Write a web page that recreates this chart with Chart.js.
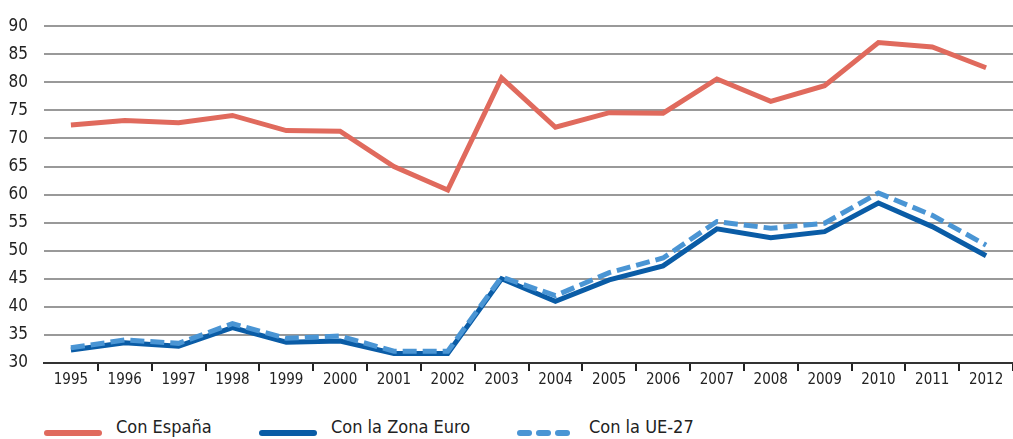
<!DOCTYPE html>
<html lang="es">
<head>
<meta charset="utf-8">
<title>Comercio</title>
<script src="https://cdn.jsdelivr.net/npm/chart.js@4/dist/chart.umd.min.js"></script>
<style>
  html, body { margin: 0; padding: 0; background: #fff; }
  body { width: 1013px; height: 439px; position: relative; overflow: hidden;
         font-family: "Liberation Sans Narrow", "DejaVu Sans Condensed", "Roboto", sans-serif; }
  #wrap { position: absolute; left: 0; top: 0; width: 1013px; height: 400px; }
  #legend { position: absolute; left: 0; top: 414px; height: 26px; width: 1013px; }
  .item { position: absolute; top: 0; height: 26px; color: #222; font-size: 18px; line-height: 26px; }
  .item .sw { position: absolute; top: 16px; height: 6px; border-radius: 3px; }
  .item span.lbl { position: absolute; top: 0; white-space: nowrap; }
  .dash { position: absolute; top: 16px; height: 6px; width: 15px; border-radius: 3px; }
</style>
</head>
<body>
<div id="wrap"><canvas id="chart" width="1013" height="400"></canvas></div>
<div id="legend"></div>
<script>
const years = ['1995', '1996', '1997', '1998', '1999', '2000', '2001', '2002', '2003',
               '2004', '2005', '2006', '2007', '2008', '2009', '2010', '2011', '2012'];
const conEspana = [72.4, 73.2, 72.8, 74.1, 71.4, 71.3, 65.0, 60.8, 80.8,
                   72.0, 74.6, 74.5, 80.6, 76.6, 79.4, 87.1, 86.3, 82.6];
const conZonaEuro = [32.3, 33.6, 33.0, 36.3, 33.7, 33.9, 31.7, 31.7, 45.0,
                     41.0, 44.8, 47.3, 53.9, 52.3, 53.4, 58.5, 54.3, 49.1];
const conUE27 = [32.7, 34.1, 33.5, 37.0, 34.4, 34.8, 32.1, 32.1, 45.3,
                 42.0, 46.1, 48.7, 55.2, 54.0, 54.9, 60.3, 56.3, 51.0];
const yTicks = [30, 35, 40, 45, 50, 55, 60, 65, 70, 75, 80, 85, 90];

const RED = '#e06a5d';
const NAVY = '#0a5ca6';
const SKY = '#4a95d4';
const FONT = '"Liberation Sans Narrow", "DejaVu Sans Condensed", Roboto, sans-serif';

const ctx = document.getElementById('chart').getContext('2d');
new Chart(ctx, {
  type: 'line',
  data: {
    labels: years,
    datasets: [
      { label: 'Con España', data: conEspana, borderColor: RED, borderWidth: 5, order: 2 },
      { label: 'Con la Zona Euro', data: conZonaEuro, borderColor: NAVY, borderWidth: 5, order: 1 },
      { label: 'Con la UE-27', data: conUE27, borderColor: SKY, borderWidth: 5,
        borderDash: [14, 6], order: 0 }
    ]
  },
  options: {
    responsive: false,
    animation: false,
    layout: { padding: { top: 4, right: 0, left: 4, bottom: 1 } },
    elements: {
      point: { radius: 0 },
      line: { tension: 0, borderCapStyle: 'butt', borderJoinStyle: 'miter' }
    },
    plugins: { legend: { display: false }, tooltip: { enabled: false } },
    scales: {
      x: {
        offset: true,
        afterFit: axis => { axis.height = 36; },
        grid: {
          offset: true,
          drawOnChartArea: false,
          tickLength: 8,
          lineWidth: 2,
          color: ctx => ctx.index === 0 ? 'rgba(0,0,0,0)' : '#222'
        },
        border: { display: true, color: '#333', width: 2 },
        ticks: { color: '#222', font: { family: FONT, size: 15 }, padding: 0, maxRotation: 0 }
      },
      y: {
        min: 30,
        max: 90,
        afterBuildTicks: axis => { axis.ticks = yTicks.map(v => ({ value: v })); },
        afterFit: axis => { axis.width = 40; },
        grid: { color: '#999', lineWidth: 2, drawTicks: false },
        border: { display: false },
        ticks: { color: '#222', font: { family: FONT, size: 17 }, padding: 16 }
      }
    }
  }
});

// legend below the chart
const legendItems = [
  { text: 'Con España', color: RED, x: 44, w: 58, textX: 116 },
  { text: 'Con la Zona Euro', color: NAVY, x: 259, w: 58, textX: 331 },
  { text: 'Con la UE-27', color: SKY, x: 517, w: 52, textX: 589, dashed: true }
];
const legend = document.getElementById('legend');
legendItems.forEach(it => {
  const el = document.createElement('div');
  el.className = 'item';
  el.style.left = '0px';
  if (it.dashed) {
    for (let i = 0; i < 3; i++) {
      const d = document.createElement('div');
      d.className = 'dash';
      d.style.left = (it.x + i * 19) + 'px';
      d.style.background = it.color;
      el.appendChild(d);
    }
  } else {
    const sw = document.createElement('div');
    sw.className = 'sw';
    sw.style.left = it.x + 'px';
    sw.style.width = it.w + 'px';
    sw.style.background = it.color;
    el.appendChild(sw);
  }
  const lbl = document.createElement('span');
  lbl.className = 'lbl';
  lbl.style.left = it.textX + 'px';
  lbl.textContent = it.text;
  el.appendChild(lbl);
  legend.appendChild(el);
});
</script>
</body>
</html>
